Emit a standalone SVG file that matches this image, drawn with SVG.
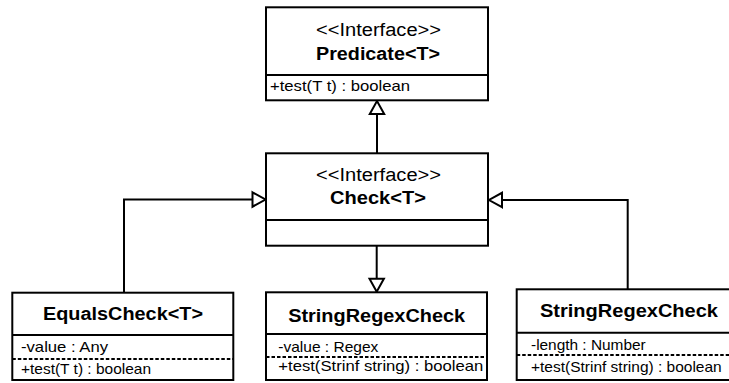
<svg xmlns="http://www.w3.org/2000/svg" width="729" height="383" viewBox="0 0 729 383">
<style>
.box{fill:#fff;stroke:#000;stroke-width:2}
.sep{stroke:#000;stroke-width:2;fill:none}
.dash{stroke:#000;stroke-width:2;stroke-dasharray:3.5 2;fill:none}
.st{font-family:"Liberation Sans",Arial,sans-serif;font-size:18px;text-anchor:middle;fill:#000}
.ti{font-family:"Liberation Sans",Arial,sans-serif;font-size:18px;font-weight:bold;text-anchor:middle;fill:#000}
.at{font-family:"Liberation Sans",Arial,sans-serif;font-size:14.5px;fill:#000}
.edge{fill:none;stroke:#000;stroke-width:2}
</style>
<defs>
<marker id="tri" markerUnits="userSpaceOnUse" markerWidth="20" markerHeight="20" viewBox="0 0 20 20" refX="16" refY="10" orient="auto">
<path d="M3,2.8 L16,10 L3,17.2 Z" fill="#fff" stroke="#000" stroke-width="2"/>
</marker>
</defs>
<g id="connectors">
<path class="edge" d="M377,153.3 L377,101" marker-end="url(#tri)"/>
<path class="edge" d="M124,292.7 L124,199.5 L265.5,199.5" marker-end="url(#tri)"/>
<path class="edge" d="M376.7,245.7 L376.7,291.8" marker-end="url(#tri)"/>
<path class="edge" d="M627.7,289.3 L627.7,200 L489,200" marker-end="url(#tri)"/>
</g>
<g id="predicate">
<rect class="box" x="266" y="7.3" width="222" height="93"/>
<line class="sep" x1="266" y1="75" x2="488" y2="75"/>
<text class="st" x="378.5" y="36" textLength="125" lengthAdjust="spacingAndGlyphs">&lt;&lt;Interface&gt;&gt;</text>
<text class="ti" x="378" y="59.5" textLength="124" lengthAdjust="spacingAndGlyphs">Predicate&lt;T&gt;</text>
<text class="at" x="270" y="90.5" textLength="140" lengthAdjust="spacingAndGlyphs">+test(T t) : boolean</text>
</g>
<g id="check">
<rect class="box" x="266" y="153.3" width="222" height="92.4"/>
<line class="sep" x1="266" y1="220" x2="488" y2="220"/>
<text class="st" x="378.5" y="180.5" textLength="125" lengthAdjust="spacingAndGlyphs">&lt;&lt;Interface&gt;&gt;</text>
<text class="ti" x="378" y="204" textLength="96" lengthAdjust="spacingAndGlyphs">Check&lt;T&gt;</text>
</g>
<g id="equalscheck">
<rect class="box" x="12.3" y="292.7" width="221" height="87.3"/>
<line class="sep" x1="12.3" y1="335" x2="233.3" y2="335"/>
<line class="dash" x1="12.3" y1="359" x2="233.3" y2="359"/>
<text class="ti" x="123" y="320" textLength="160" lengthAdjust="spacingAndGlyphs">EqualsCheck&lt;T&gt;</text>
<text class="at" x="21" y="352" textLength="87" lengthAdjust="spacingAndGlyphs">-value : Any</text>
<text class="at" x="21" y="374" textLength="130" lengthAdjust="spacingAndGlyphs">+test(T t) : boolean</text>
</g>
<g id="stringregexcheck1">
<rect class="box" x="266" y="292.3" width="221" height="87.7"/>
<line class="sep" x1="266" y1="334" x2="487" y2="334"/>
<line class="dash" x1="266" y1="357" x2="487" y2="357"/>
<text class="ti" x="376.7" y="321.7" textLength="177" lengthAdjust="spacingAndGlyphs">StringRegexCheck</text>
<text class="at" x="278.3" y="351.5" textLength="100" lengthAdjust="spacingAndGlyphs">-value : Regex</text>
<text class="at" x="278.3" y="371" textLength="205" lengthAdjust="spacingAndGlyphs">+test(Strinf string) : boolean</text>
</g>
<g id="stringregexcheck2">
<rect class="box" x="516.7" y="289.3" width="222" height="90.7"/>
<line class="sep" x1="516.7" y1="332.7" x2="738.7" y2="332.7"/>
<line class="dash" x1="516.7" y1="355" x2="738.7" y2="355"/>
<text class="ti" x="629" y="316.7" textLength="178" lengthAdjust="spacingAndGlyphs">StringRegexCheck</text>
<text class="at" x="531" y="350" textLength="114.7" lengthAdjust="spacingAndGlyphs">-length : Number</text>
<text class="at" x="531" y="372" textLength="190.7" lengthAdjust="spacingAndGlyphs">+test(Strinf string) : boolean</text>
</g>
</svg>
